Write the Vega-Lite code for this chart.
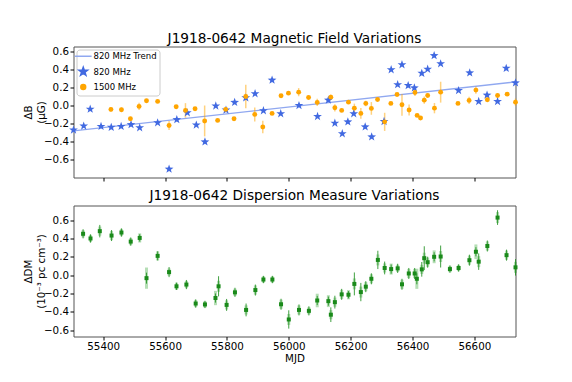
{
  "$schema": "https://vega.github.io/schema/vega-lite/v6.json",
  "padding": {"left": 22.5, "top": 31.5, "right": 5, "bottom": 5},
  "background": "white",
  "config": {
    "font": "DejaVu Sans",
    "view": {"stroke": "#555555", "strokeWidth": 1},
    "axis": {"grid": false, "domain": false, "labelOverlap": false, "labelFont": "DejaVu Sans", "labelFontSize": 10.3, "labelColor": "#000000", "tickColor": "#000000", "tickSize": 3.5, "labelPadding": 1.5, "titleFont": "DejaVu Sans", "titleFontSize": 10.3, "titleFontWeight": "normal", "titleColor": "#000000"},
    "title": {"font": "DejaVu Sans", "fontSize": 13.7, "fontWeight": "normal", "color": "#000000", "frame": "group", "anchor": "middle", "baseline": "alphabetic"},
    "legend": {"labelFont": "DejaVu Sans", "labelFontSize": 8.5, "labelColor": "#000000"}
  },
  "datasets": {
    "b820": [
      {"mjd": 55304, "db": -0.27}, {"mjd": 55337, "db": -0.226}, {"mjd": 55358, "db": -0.04}, {"mjd": 55393, "db": -0.23},
      {"mjd": 55426, "db": -0.24}, {"mjd": 55458, "db": -0.23}, {"mjd": 55490, "db": -0.21}, {"mjd": 55518, "db": -0.245},
      {"mjd": 55576, "db": -0.19}, {"mjd": 55613, "db": -0.70}, {"mjd": 55638, "db": -0.155}, {"mjd": 55672, "db": -0.08},
      {"mjd": 55701, "db": -0.215}, {"mjd": 55729, "db": -0.40}, {"mjd": 55764, "db": -0.005}, {"mjd": 55797, "db": -0.05},
      {"mjd": 55825, "db": 0.035}, {"mjd": 55861, "db": 0.085}, {"mjd": 55891, "db": 0.13}, {"mjd": 55918, "db": -0.057},
      {"mjd": 55946, "db": 0.28}, {"mjd": 55974, "db": -0.09}, {"mjd": 56033, "db": 0.0}, {"mjd": 56093, "db": -0.12},
      {"mjd": 56128, "db": 0.06}, {"mjd": 56149, "db": -0.195}, {"mjd": 56173, "db": -0.31}, {"mjd": 56191, "db": -0.18},
      {"mjd": 56210, "db": -0.09}, {"mjd": 56247, "db": -0.235}, {"mjd": 56268, "db": -0.345}, {"mjd": 56308, "db": -0.175},
      {"mjd": 56331, "db": 0.395}, {"mjd": 56352, "db": 0.23}, {"mjd": 56366, "db": 0.45}, {"mjd": 56386, "db": 0.22},
      {"mjd": 56406, "db": 0.195}, {"mjd": 56430, "db": 0.355}, {"mjd": 56449, "db": 0.40}, {"mjd": 56470, "db": 0.55},
      {"mjd": 56491, "db": 0.46}, {"mjd": 56549, "db": 0.165}, {"mjd": 56585, "db": 0.36}, {"mjd": 56614, "db": 0.045},
      {"mjd": 56641, "db": 0.115}, {"mjd": 56675, "db": 0.045}, {"mjd": 56703, "db": 0.41}, {"mjd": 56733, "db": 0.25}
    ],
    "b1500": [
      {"mjd": 55425, "db": -0.043, "err": 0.025}, {"mjd": 55459, "db": -0.047, "err": 0.025}, {"mjd": 55488, "db": -0.146, "err": 0.02},
      {"mjd": 55516, "db": -0.01, "err": 0.04}, {"mjd": 55540, "db": 0.052, "err": 0.015}, {"mjd": 55576, "db": 0.045, "err": 0.015},
      {"mjd": 55613, "db": -0.22, "err": 0.05}, {"mjd": 55636, "db": -0.014, "err": 0.02}, {"mjd": 55666, "db": -0.054, "err": 0.08},
      {"mjd": 55697, "db": -0.036, "err": 0.02}, {"mjd": 55728, "db": -0.17, "err": 0.17}, {"mjd": 55770, "db": -0.164, "err": 0.015},
      {"mjd": 55796, "db": -0.043, "err": 0.02}, {"mjd": 55823, "db": -0.146, "err": 0.015}, {"mjd": 55861, "db": 0.10, "err": 0.13},
      {"mjd": 55890, "db": -0.098, "err": 0.077}, {"mjd": 55916, "db": -0.237, "err": 0.068}, {"mjd": 55946, "db": -0.087, "err": 0.015},
      {"mjd": 55975, "db": 0.107, "err": 0.02}, {"mjd": 55999, "db": 0.136, "err": 0.015}, {"mjd": 56032, "db": 0.147, "err": 0.045},
      {"mjd": 56064, "db": 0.089, "err": 0.015}, {"mjd": 56092, "db": 0.034, "err": 0.04}, {"mjd": 56136, "db": 0.092, "err": 0.03},
      {"mjd": 56149, "db": -0.025, "err": 0.04}, {"mjd": 56171, "db": -0.054, "err": 0.015}, {"mjd": 56193, "db": 0.037, "err": 0.015},
      {"mjd": 56212, "db": -0.029, "err": 0.05}, {"mjd": 56233, "db": -0.087, "err": 0.06}, {"mjd": 56249, "db": 0.023, "err": 0.03},
      {"mjd": 56267, "db": -0.032, "err": 0.07}, {"mjd": 56287, "db": 0.067, "err": 0.015}, {"mjd": 56310, "db": -0.18, "err": 0.1},
      {"mjd": 56330, "db": 0.023, "err": 0.015}, {"mjd": 56350, "db": 0.122, "err": 0.015}, {"mjd": 56366, "db": 0.008, "err": 0.12},
      {"mjd": 56389, "db": -0.05, "err": 0.06}, {"mjd": 56408, "db": 0.144, "err": 0.04}, {"mjd": 56415, "db": -0.109, "err": 0.015},
      {"mjd": 56426, "db": -0.138, "err": 0.015}, {"mjd": 56438, "db": 0.059, "err": 0.04}, {"mjd": 56449, "db": 0.11, "err": 0.015},
      {"mjd": 56471, "db": -0.029, "err": 0.057}, {"mjd": 56491, "db": 0.147, "err": 0.115}, {"mjd": 56547, "db": 0.023, "err": 0.015},
      {"mjd": 56583, "db": 0.056, "err": 0.04}, {"mjd": 56605, "db": 0.17, "err": 0.04}, {"mjd": 56642, "db": 0.063, "err": 0.015},
      {"mjd": 56675, "db": 0.11, "err": 0.015}, {"mjd": 56706, "db": 0.125, "err": 0.015}, {"mjd": 56733, "db": 0.037, "err": 0.04}
    ],
    "trend": [
      {"mjd": 55304, "db": -0.28, "series": "820 MHz Trend"},
      {"mjd": 56733, "db": 0.26, "series": "820 MHz Trend"}
    ],
    "dm": [
      {"mjd": 55335, "dm": 0.451, "e1": 0.05, "e2": 0.04}, {"mjd": 55359, "dm": 0.40, "e1": 0.045, "e2": 0.04},
      {"mjd": 55389, "dm": 0.48, "e1": 0.068, "e2": 0.05}, {"mjd": 55427, "dm": 0.432, "e1": 0.06, "e2": 0.05},
      {"mjd": 55459, "dm": 0.465, "e1": 0.045, "e2": 0.04}, {"mjd": 55489, "dm": 0.366, "e1": 0.045, "e2": 0.04},
      {"mjd": 55518, "dm": 0.406, "e1": 0.04, "e2": 0.05}, {"mjd": 55540, "dm": -0.033, "e1": 0.06, "e2": 0.116},
      {"mjd": 55576, "dm": 0.21, "e1": 0.05, "e2": 0.05}, {"mjd": 55613, "dm": 0.033, "e1": 0.055, "e2": 0.04},
      {"mjd": 55637, "dm": -0.122, "e1": 0.04, "e2": 0.04}, {"mjd": 55669, "dm": -0.103, "e1": 0.05, "e2": 0.04},
      {"mjd": 55699, "dm": -0.31, "e1": 0.045, "e2": 0.04}, {"mjd": 55729, "dm": -0.32, "e1": 0.04, "e2": 0.035},
      {"mjd": 55763, "dm": -0.25, "e1": 0.05, "e2": 0.078}, {"mjd": 55773, "dm": -0.122, "e1": 0.11, "e2": 0.06},
      {"mjd": 55799, "dm": -0.325, "e1": 0.065, "e2": 0.05}, {"mjd": 55826, "dm": -0.188, "e1": 0.05, "e2": 0.04},
      {"mjd": 55862, "dm": -0.38, "e1": 0.07, "e2": 0.05}, {"mjd": 55892, "dm": -0.163, "e1": 0.06, "e2": 0.05},
      {"mjd": 55918, "dm": -0.048, "e1": 0.04, "e2": 0.035}, {"mjd": 55947, "dm": -0.048, "e1": 0.04, "e2": 0.035},
      {"mjd": 55975, "dm": -0.318, "e1": 0.06, "e2": 0.05}, {"mjd": 56000, "dm": -0.484, "e1": 0.1, "e2": 0.06},
      {"mjd": 56033, "dm": -0.38, "e1": 0.06, "e2": 0.05}, {"mjd": 56065, "dm": -0.39, "e1": 0.05, "e2": 0.04},
      {"mjd": 56092, "dm": -0.277, "e1": 0.05, "e2": 0.074}, {"mjd": 56128, "dm": -0.284, "e1": 0.05, "e2": 0.065},
      {"mjd": 56136, "dm": -0.432, "e1": 0.08, "e2": 0.05}, {"mjd": 56149, "dm": -0.295, "e1": 0.07, "e2": 0.05},
      {"mjd": 56171, "dm": -0.21, "e1": 0.06, "e2": 0.05}, {"mjd": 56193, "dm": -0.214, "e1": 0.04, "e2": 0.05},
      {"mjd": 56212, "dm": -0.096, "e1": 0.125, "e2": 0.06}, {"mjd": 56233, "dm": -0.185, "e1": 0.1, "e2": 0.06},
      {"mjd": 56249, "dm": -0.126, "e1": 0.06, "e2": 0.05}, {"mjd": 56267, "dm": -0.04, "e1": 0.06, "e2": 0.05},
      {"mjd": 56288, "dm": 0.166, "e1": 0.1, "e2": 0.06}, {"mjd": 56310, "dm": 0.078, "e1": 0.07, "e2": 0.05},
      {"mjd": 56331, "dm": 0.066, "e1": 0.05, "e2": 0.06}, {"mjd": 56352, "dm": 0.074, "e1": 0.05, "e2": 0.04},
      {"mjd": 56366, "dm": -0.1, "e1": 0.06, "e2": 0.05}, {"mjd": 56388, "dm": 0.018, "e1": 0.06, "e2": 0.05},
      {"mjd": 56407, "dm": 0.018, "e1": 0.06, "e2": 0.05}, {"mjd": 56414, "dm": -0.04, "e1": 0.06, "e2": 0.11},
      {"mjd": 56430, "dm": 0.063, "e1": 0.08, "e2": 0.05}, {"mjd": 56438, "dm": 0.185, "e1": 0.13, "e2": 0.06},
      {"mjd": 56449, "dm": 0.141, "e1": 0.06, "e2": 0.05}, {"mjd": 56470, "dm": 0.2, "e1": 0.05, "e2": 0.07},
      {"mjd": 56491, "dm": 0.203, "e1": 0.12, "e2": 0.06}, {"mjd": 56521, "dm": 0.066, "e1": 0.04, "e2": 0.035},
      {"mjd": 56549, "dm": 0.078, "e1": 0.04, "e2": 0.035}, {"mjd": 56584, "dm": 0.163, "e1": 0.06, "e2": 0.05},
      {"mjd": 56605, "dm": 0.255, "e1": 0.05, "e2": 0.08}, {"mjd": 56614, "dm": 0.147, "e1": 0.09, "e2": 0.06},
      {"mjd": 56642, "dm": 0.318, "e1": 0.06, "e2": 0.05}, {"mjd": 56675, "dm": 0.628, "e1": 0.08, "e2": 0.06},
      {"mjd": 56704, "dm": 0.218, "e1": 0.06, "e2": 0.05}, {"mjd": 56733, "dm": 0.085, "e1": 0.09, "e2": 0.06}
    ]
  },
  "vconcat": [
    {
      "width": 442,
      "height": 131,
      "title": {"text": "J1918-0642 Magnetic Field Variations", "offset": 0},
      "encoding": {
        "x": {"field": "mjd", "type": "quantitative", "scale": {"domain": [55304, 56733], "nice": false, "zero": false}, "axis": {"values": [55400, 55600, 55800, 56000, 56200, 56400, 56600], "labels": false, "title": null, "minExtent": 0}},
        "y": {"field": "db", "type": "quantitative", "scale": {"domain": [-0.793, 0.65], "nice": false, "zero": false}, "axis": {"values": [-0.6, -0.4, -0.2, 0, 0.2, 0.4, 0.6], "format": ".1f", "title": ["ΔB", "(μG)"], "titleLineHeight": 13, "titlePadding": -3}}
      },
      "layer": [
        {
          "data": {"name": "trend"},
          "mark": {"type": "line", "strokeWidth": 1.3, "clip": true},
          "encoding": {
            "color": {"field": "series", "type": "nominal", "scale": {"domain": ["820 MHz Trend", "820 MHz", "1500 MHz"], "range": ["#90a8f0", "#4169e1", "#ffa500"]}, "legend": {"title": null, "orient": "top-left", "offset": 3, "padding": 2.5, "strokeColor": "#cccccc", "fillColor": "#ffffff", "cornerRadius": 3, "rowPadding": 2.4, "labelOffset": 6, "encode": {"symbols": {"update": {"size": {"signal": "datum.label == '820 MHz Trend' ? 279 : datum.label == '820 MHz' ? 80 : 24"}}}}}}
          }
        },
        {
          "data": {"name": "b1500"},
          "mark": {"type": "errorbar", "color": "#ffa500", "opacity": 0.5, "thickness": 1.5},
          "encoding": {
            "yError": {"field": "err"}
          }
        },
        {
          "data": {"name": "b820"},
          "transform": [{"calculate": "'820 MHz'", "as": "series"}],
          "mark": {"type": "point", "filled": true, "opacity": 1, "size": 85, "strokeWidth": 1, "strokeOpacity": 0.3},
          "encoding": {
            "color": {"field": "series", "type": "nominal"},
            "shape": {"field": "series", "type": "nominal", "scale": {"domain": ["820 MHz Trend", "820 MHz", "1500 MHz"], "range": ["stroke", "M0,-1L0.235,-0.324L0.951,-0.309L0.38,0.124L0.588,0.809L0,0.4L-0.588,0.809L-0.38,0.124L-0.951,-0.309L-0.235,-0.324Z", "circle"]}}
          }
        },
        {
          "data": {"name": "b1500"},
          "transform": [{"calculate": "'1500 MHz'", "as": "series"}],
          "mark": {"type": "point", "filled": true, "opacity": 1, "size": 24},
          "encoding": {
            "color": {"field": "series", "type": "nominal"},
            "shape": {"field": "series", "type": "nominal"}
          }
        }
      ]
    },
    {
      "width": 442,
      "height": 131,
      "title": {"text": "J1918-0642 Dispersion Measure Variations", "offset": 3},
      "data": {"name": "dm"},
      "encoding": {
        "x": {"field": "mjd", "type": "quantitative", "scale": {"domain": [55304, 56733], "nice": false, "zero": false}, "axis": {"values": [55400, 55600, 55800, 56000, 56200, 56400, 56600], "format": "d", "title": "MJD", "titlePadding": 1.5}},
        "y": {"field": "dm", "type": "quantitative", "scale": {"domain": [-0.67, 0.76], "nice": false, "zero": false}, "axis": {"values": [-0.6, -0.4, -0.2, 0, 0.2, 0.4, 0.6], "format": ".1f", "title": ["ΔDM", "(10⁻³ pc cm⁻³)"], "titleLineHeight": 13, "titlePadding": -3}}
      },
      "layer": [
        {
          "mark": {"type": "errorbar", "color": "#2ca02c", "opacity": 0.35, "thickness": 3},
          "encoding": {"yError": {"field": "e2"}}
        },
        {
          "mark": {"type": "errorbar", "color": "#1f8f1f", "opacity": 0.85, "thickness": 1},
          "encoding": {"yError": {"field": "e1"}}
        },
        {
          "mark": {"type": "point", "shape": "square", "filled": true, "color": "#1a8a1a", "size": 16, "opacity": 1},
          "encoding": {}
        }
      ]
    }
  ],
  "spacing": 5
}
